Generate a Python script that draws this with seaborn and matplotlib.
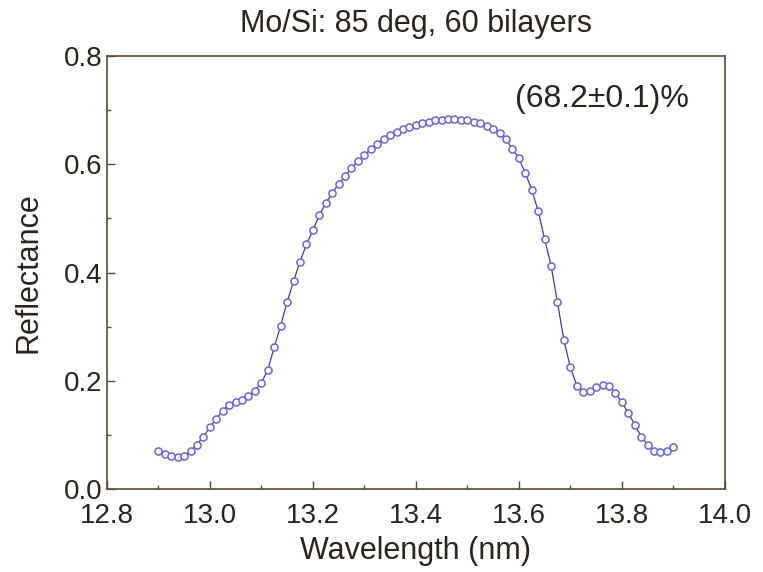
import matplotlib
matplotlib.use("Agg")
import matplotlib.pyplot as plt
import seaborn as sns
import pandas as pd
from matplotlib.ticker import MultipleLocator

wavelength = [
    12.9000, 12.9125, 12.9250, 12.9375, 12.9500, 12.9625, 12.9750, 12.9875,
    13.0000, 13.0125, 13.0250, 13.0375, 13.0500, 13.0625, 13.0750, 13.0875,
    13.1000, 13.1125, 13.1250, 13.1375, 13.1500, 13.1625, 13.1750, 13.1875,
    13.2000, 13.2125, 13.2250, 13.2375, 13.2500, 13.2625, 13.2750, 13.2875,
    13.3000, 13.3125, 13.3250, 13.3375, 13.3500, 13.3625, 13.3750, 13.3875,
    13.4000, 13.4125, 13.4250, 13.4375, 13.4500, 13.4625, 13.4750, 13.4875,
    13.5000, 13.5125, 13.5250, 13.5375, 13.5500, 13.5625, 13.5750, 13.5875,
    13.6000, 13.6125, 13.6250, 13.6375, 13.6500, 13.6625, 13.6750, 13.6875,
    13.7000, 13.7125, 13.7250, 13.7375, 13.7500, 13.7625, 13.7750, 13.7875,
    13.8000, 13.8125, 13.8250, 13.8375, 13.8500, 13.8625, 13.8750, 13.8875,
    13.9000,
]
reflectance = [
    0.070, 0.065, 0.061, 0.059, 0.062, 0.070, 0.082, 0.097,
    0.114, 0.130, 0.145, 0.156, 0.161, 0.165, 0.172, 0.182,
    0.196, 0.220, 0.262, 0.302, 0.345, 0.384, 0.420, 0.452,
    0.478, 0.506, 0.528, 0.547, 0.563, 0.578, 0.593, 0.606,
    0.617, 0.628, 0.638, 0.646, 0.654, 0.660, 0.665, 0.669,
    0.673, 0.676, 0.679, 0.681, 0.682, 0.683, 0.683, 0.682,
    0.681, 0.679, 0.676, 0.670, 0.665, 0.657, 0.646, 0.629,
    0.611, 0.584, 0.553, 0.514, 0.462, 0.413, 0.345, 0.275,
    0.225, 0.191, 0.179, 0.181, 0.188, 0.192, 0.190, 0.178,
    0.160, 0.141, 0.119, 0.097, 0.082, 0.071, 0.068, 0.070,
    0.077,
]

title = "Mo/Si: 85 deg, 60 bilayers"
annotation = "(68.2\u00b10.1)%"
xticks = [12.8, 13.0, 13.2, 13.4, 13.6, 13.8, 14.0]
yticks = [0.0, 0.2, 0.4, 0.6, 0.8]

df = pd.DataFrame({"Wavelength (nm)": wavelength, "Reflectance": reflectance})

sns.set_theme(style="ticks")
plt.rcParams["font.family"] = ["Liberation Sans", "DejaVu Sans"]

text_color = "#2b241a"
spine_color = "#5c4a2e"
marker_color = "#6666dc"
line_color = "#3c3ca8"

fig = plt.figure(figsize=(7.63, 5.72), dpi=100)
ax = fig.add_axes([0.140, 0.145, 0.810, 0.757])

sns.lineplot(data=df, x="Wavelength (nm)", y="Reflectance", ax=ax,
             color=line_color, linewidth=0.9, zorder=2)
sns.scatterplot(data=df, x="Wavelength (nm)", y="Reflectance", ax=ax,
                marker="o", s=26, facecolor="white", edgecolor=marker_color,
                linewidth=1.1, zorder=3)

ax.set_xlim(12.8, 14.0)
ax.set_ylim(0.0, 0.8)
ax.set_xticks(xticks)
ax.set_yticks(yticks)
ax.set_xticklabels([f"{t:.1f}" for t in xticks])
ax.set_yticklabels([f"{t:.1f}" for t in yticks])
ax.xaxis.set_minor_locator(MultipleLocator(0.1))
ax.yaxis.set_minor_locator(MultipleLocator(0.1))
ax.tick_params(axis="both", which="major", direction="in", length=6, width=1.0,
               color=spine_color, labelsize=20, labelcolor=text_color)
ax.tick_params(axis="x", which="major", pad=10)
ax.tick_params(axis="y", which="major", pad=3)
ax.tick_params(axis="both", which="minor", direction="in", length=3, width=1.0,
               color=spine_color)
for s in ax.spines.values():
    s.set_visible(True)
    s.set_color(spine_color)
    s.set_linewidth(1.2)

ax.set_xlabel("Wavelength (nm)", fontsize=22, color=text_color, labelpad=5)
ax.set_ylabel("Reflectance", fontsize=22, color=text_color, labelpad=15)
ax.set_title(title, fontsize=22, color=text_color, pad=17)
ax.text(13.761, 0.72, annotation, fontsize=23, color=text_color,
        ha="center", va="center")
ax.grid(False)

fig.savefig("out.png", dpi=100, facecolor="white")
